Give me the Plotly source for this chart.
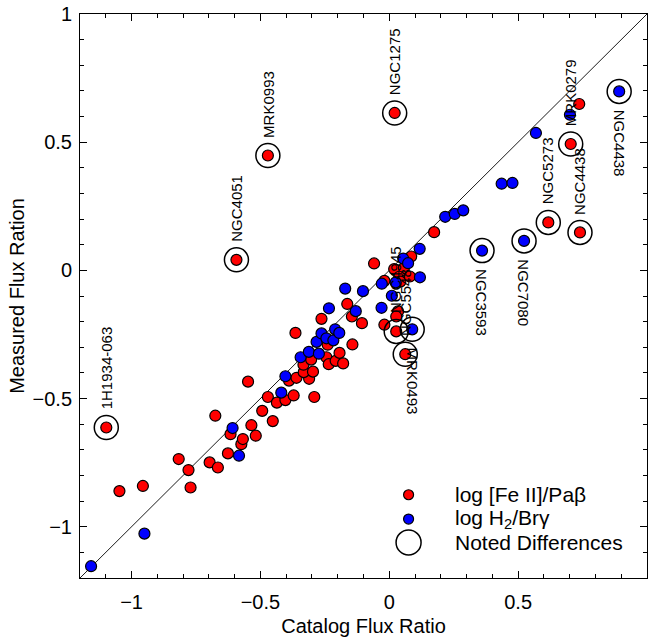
import plotly.graph_objects as go

# log [Fe II]/Pa-beta : catalog value vs measured value
feii_catalog = [-1.047, -0.956, -0.817, -0.771, -0.779, -0.697, -0.665, -0.675, -0.626, -0.616,
                -0.574, -0.568, -0.535, -0.518, -0.548, -0.493, -0.452, -0.471, -0.436, -0.403,
                -0.371, -0.291, -0.389, -0.360, -0.311, -0.332, -0.296, -0.333, -0.303, -0.244,
                -0.235, -0.208, -0.179, -0.193, -0.239, -0.143, -0.364, -0.263, -0.163, -0.145,
                -0.106, -0.019, 0.034, 0.027, -0.059, -0.019, 0.019, 0.057, 0.039, 0.043,
                0.080, 0.085, 0.174, 0.737]
feii_measured = [-0.861, -0.841, -0.736, -0.847, -0.779, -0.749, -0.769, -0.567, -0.714, -0.639,
                 -0.678, -0.658, -0.604, -0.645, -0.434, -0.548, -0.588, -0.494, -0.516, -0.506,
                 -0.488, -0.494, -0.430, -0.419, -0.423, -0.397, -0.395, -0.368, -0.348, -0.339,
                 -0.366, -0.353, -0.363, -0.322, -0.290, -0.289, -0.244, -0.189, -0.131, -0.180,
                 -0.206, -0.212, -0.160, -0.180, 0.027, -0.041, 0.005, 0.009, -0.025, -0.044,
                 -0.024, 0.054, 0.149, 0.649]

# log H2/Br-gamma : catalog value vs measured value
h2_catalog = [-1.157, -0.950, -0.608, -0.583, -0.419, -0.403, -0.344, -0.312, -0.273, -0.282,
              -0.263, -0.244, -0.217, -0.210, -0.194, -0.234, -0.171, -0.130, -0.102, -0.030,
              -0.029, 0.010, 0.025, 0.054, 0.073, 0.118, 0.119, 0.217, 0.254, 0.287,
              0.436, 0.478, 0.569, 0.701]
h2_measured = [-1.154, -1.027, -0.615, -0.723, -0.477, -0.413, -0.339, -0.318, -0.325, -0.279,
               -0.246, -0.265, -0.273, -0.230, -0.244, -0.148, -0.071, -0.159, -0.081, -0.146,
               -0.052, -0.099, -0.047, 0.046, 0.028, 0.084, -0.027, 0.209, 0.220, 0.234,
               0.338, 0.341, 0.536, 0.607]

# objects whose measured ratio differs from the catalog
noted_names = ["1H1934-063", "NGC4051", "MRK0993", "NGC1275", "NGC4438", "MRK0279",
               "NGC4438", "NGC5273", "NGC7080", "NGC3593", "NGC4945", "MRK0493", "NGC5548"]
noted_series = ["feii", "feii", "feii", "feii", "h2", "feii",
                "feii", "feii", "h2", "h2", "feii", "h2", "feii"]
noted_catalog = [-1.098, -0.593, -0.471, 0.021, 0.892, 0.704,
                 0.740, 0.617, 0.523, 0.360, 0.027, 0.089, 0.062]
noted_measured = [-0.613, 0.041, 0.448, 0.614, 0.698, 0.493,
                  0.148, 0.187, 0.115, 0.077, -0.238, -0.230, -0.327]
# label side: "up" = above the point reading upward, "down" = below reading downward
noted_side = ["up", "up", "up", "up", "down", "up",
              "up", "up", "down", "down", "up", "down", "up"]

axis_range = [-1.2, 1.0]
FONT = "Liberation Sans, Arial, sans-serif"
RED = "#ff0000"
BLUE = "#0000ff"

red_x = feii_catalog + [x for x, s in zip(noted_catalog, noted_series) if s == "feii"]
red_y = feii_measured + [y for y, s in zip(noted_measured, noted_series) if s == "feii"]
blue_x = h2_catalog + [x for x, s in zip(noted_catalog, noted_series) if s == "h2"]
blue_y = h2_measured + [y for y, s in zip(noted_measured, noted_series) if s == "h2"]

fig = go.Figure()

dot = dict(size=11, line=dict(color="black", width=1.2))
fig.add_trace(go.Scatter(x=red_x, y=red_y, mode="markers", name="log [Fe II]/Paβ",
                         marker=dict(color=RED, **dot), showlegend=False))
fig.add_trace(go.Scatter(x=blue_x, y=blue_y, mode="markers", name="log H2/Brγ",
                         marker=dict(color=BLUE, **dot), showlegend=False))
fig.add_trace(go.Scatter(x=noted_catalog, y=noted_measured, mode="markers",
                         name="Noted Differences", showlegend=False,
                         marker=dict(symbol="circle-open", size=24, color="black",
                                     line=dict(width=1.5))))

# one-to-one reference line across the full axis range
fig.add_shape(type="line", x0=axis_range[0], y0=axis_range[0], x1=axis_range[1], y1=axis_range[1],
              xref="x", yref="y", line=dict(color="black", width=0.9), layer="below")

# object names, rotated
for name, x, y, side in zip(noted_names, noted_catalog, noted_measured, noted_side):
    up = side == "up"
    fig.add_annotation(x=x, y=y, xref="x", yref="y", text=name, showarrow=False,
                       textangle=-90 if up else 90,
                       xanchor="center", yanchor="bottom" if up else "top",
                       yshift=16 if up else -16,
                       font=dict(family=FONT, size=15, color="black"))

# legend, drawn in paper coordinates
legend_items = [("log [Fe II]/Paβ", RED, 10, 0.1476),
                ("log H<sub>2</sub>/Brγ", BLUE, 10, 0.1045),
                ("Noted Differences", None, 25, 0.063)]
lx, tx = 0.5795, 0.658
for label, color, diam, ly in legend_items:
    r = diam / 2
    fig.add_shape(type="circle", xref="paper", yref="paper", xsizemode="pixel", ysizemode="pixel",
                  xanchor=lx, yanchor=ly, x0=-r, x1=r, y0=-r, y1=r,
                  fillcolor=color if color else "rgba(0,0,0,0)",
                  line=dict(color="black", width=1.2 if color else 1.5))
    fig.add_annotation(x=tx, y=ly, xref="paper", yref="paper", text=label, showarrow=False,
                       xanchor="left", yanchor="middle",
                       font=dict(family=FONT, size=21, color="black"))

axis_common = dict(range=axis_range, showgrid=False, zeroline=False,
                   showline=True, linecolor="black", linewidth=1, mirror="allticks",
                   ticks="inside", ticklen=7, tickwidth=1, tickcolor="black",
                   tickvals=[-1, -0.5, 0, 0.5, 1], ticktext=["−1", "−0.5", "0", "0.5", "1"],
                   tickfont=dict(family=FONT, size=20, color="black"),
                   minor=dict(dtick=0.1, ticks="inside", ticklen=4, tickcolor="black", tickwidth=1),
                   fixedrange=True)

fig.update_xaxes(title=dict(text="Catalog Flux Ratio", font=dict(family=FONT, size=20, color="black"),
                            standoff=6), ticklabelstandoff=6, **axis_common)
fig.update_yaxes(title=dict(text="Measured Flux Ration", font=dict(family=FONT, size=20, color="black"),
                            standoff=2), ticklabelstandoff=3, **axis_common)

fig.update_layout(width=650, height=638, margin=dict(l=80, r=3, t=14, b=60),
                  paper_bgcolor="white", plot_bgcolor="white", showlegend=False,
                  font=dict(family=FONT, color="black"))

fig.write_html("out.html")
